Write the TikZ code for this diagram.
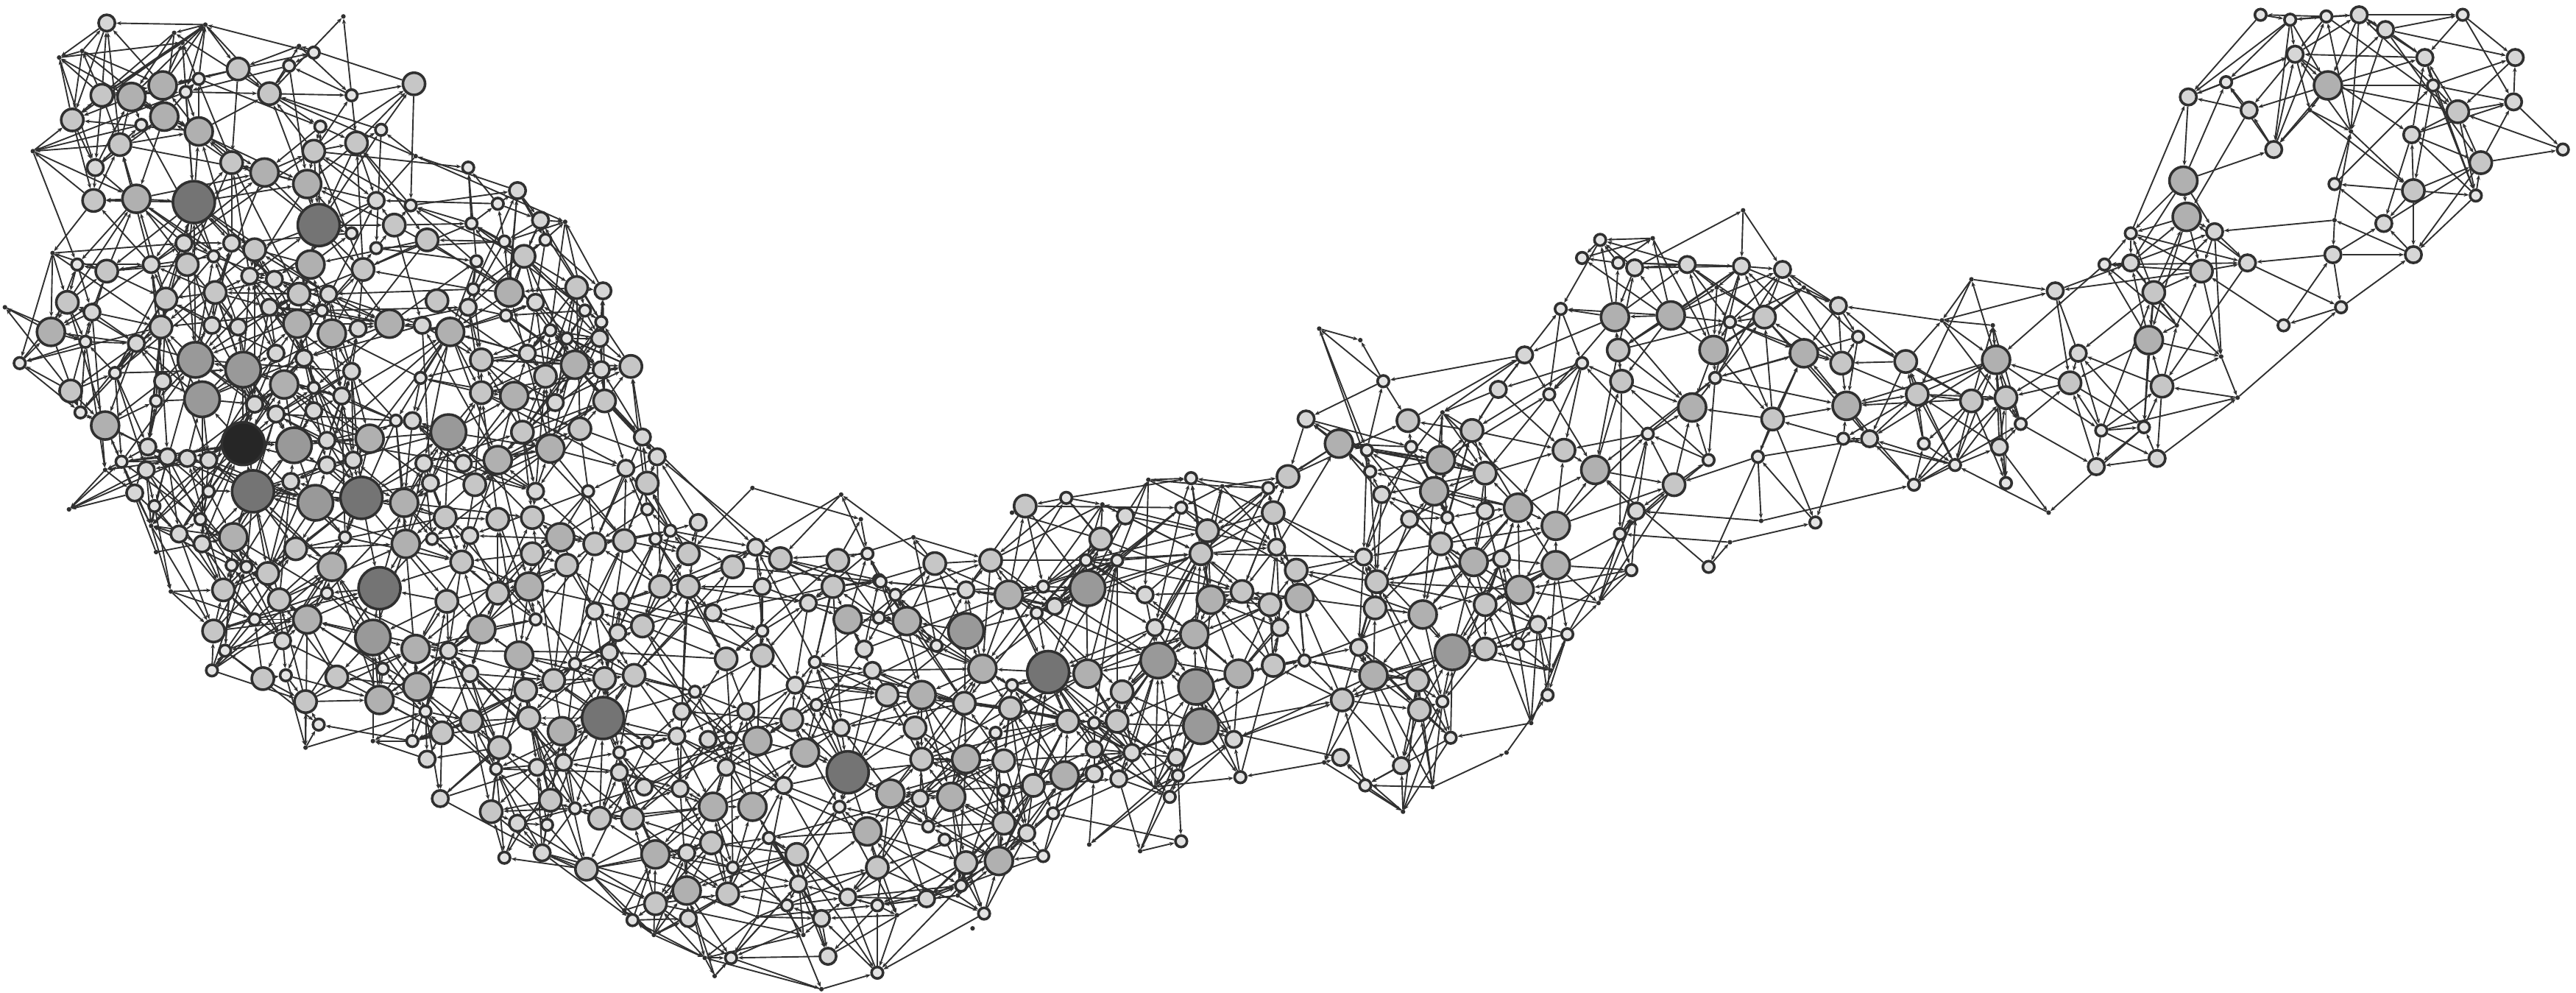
\documentclass[tikz,border=0pt]{standalone}
\usetikzlibrary{arrows.meta,backgrounds}

\definecolor{rim}{HTML}{303030}
\definecolor{fa}{HTML}{E4E4E4}
\definecolor{fb}{HTML}{D6D6D6}
\definecolor{fc}{HTML}{C6C6C6}
\definecolor{fd}{HTML}{B0B0B0}
\definecolor{fe}{HTML}{999999}
\definecolor{ff}{HTML}{747474}
\definecolor{fg}{HTML}{262626}

% wanted number of links per size class
\def\dgt{5}\def\dga{6}\def\dgb{8}\def\dgc{11}
\def\dgd{14}\def\dge{18}\def\dgf{24}\def\dgg{30}

\newcount\ci \newcount\cj
\newcount\gapx \newcount\gapy \newcount\gapsq \newcount\pairw
\newcount\chance
\newcount\rngseed \newcount\rnghi \newcount\rnglo
\rngseed=4217

% Park-Miller random numbers, \chance in 0..9999
\def\nextrand{%
  \rnghi=\rngseed \divide\rnghi by 127773
  \rnglo=\rnghi \multiply\rnglo by -127773 \advance\rnglo by \rngseed
  \multiply\rnglo by 16807
  \multiply\rnghi by 2836
  \advance\rnglo by -\rnghi
  \ifnum\rnglo<0 \advance\rnglo by 2147483647 \fi
  \rngseed=\rnglo
  \chance=\rngseed \divide\chance by 10000
  \multiply\chance by -10000 \advance\chance by \rngseed}

\tikzset{
  vtx/.style={circle, draw=rim, line width=1.6mm, inner sep=0pt},
  va/.style={vtx, fill=fa, minimum size=7mm},
  vb/.style={vtx, fill=fb, minimum size=10mm},
  vc/.style={vtx, fill=fc, minimum size=13.5mm},
  vd/.style={vtx, fill=fd, minimum size=17mm},
  ve/.style={vtx, fill=fe, minimum size=21.5mm},
  vf/.style={vtx, fill=ff, minimum size=25.5mm},
  vg/.style={vtx, fill=fg, minimum size=26mm},
  vt/.style={circle, fill=rim, inner sep=0pt, minimum size=2.8mm},
  link/.style={draw=rim, line width=0.85mm, -{Stealth[length=3mm,width=2.4mm]}}
}

% weight of the pair (\ci,\cj) by distance, then \pairaction
\def\pairstep{%
  \gapx=\numexpr\csname vx\the\cj\endcsname-\csname vx\the\ci\endcsname\relax
  \ifnum\gapx<0 \gapx=-\gapx \fi
  \ifnum\gapx<100
    \gapy=\numexpr\csname vy\the\cj\endcsname-\csname vy\the\ci\endcsname\relax
    \ifnum\gapy<0 \gapy=-\gapy \fi
    \ifnum\gapy<100
      \gapsq=\numexpr\gapx*\gapx+\gapy*\gapy\relax
      \pairw=0
      \ifnum\gapsq<10000 \pairw=8 \fi
      \ifnum\gapsq<6400 \pairw=25 \fi
      \ifnum\gapsq<3025 \pairw=60 \fi
      \ifnum\gapsq<900 \pairw=100 \fi
      \ifnum\pairw>0 \pairaction \fi
    \fi
  \fi}
\def\innerpairs{\ifnum\cj>\nnodes\else \pairstep \advance\cj 1 \expandafter\innerpairs\fi}
\def\allpairs{\ifnum\ci<\nnodes \cj=\ci \advance\cj 1 \innerpairs \advance\ci 1 \expandafter\allpairs\fi}

% first pass: how crowded each vertex is
\def\addcrowd{%
  \expandafter\xdef\csname sw\the\ci\endcsname{\the\numexpr\csname sw\the\ci\endcsname+\pairw\relax}%
  \expandafter\xdef\csname sw\the\cj\endcsname{\the\numexpr\csname sw\the\cj\endcsname+\pairw\relax}}
% second pass: a link with chance given by crowding and size
\def\addlink{%
  \nextrand
  \ifnum\chance<\numexpr\pairw*(\csname q\the\ci\endcsname+\csname q\the\cj\endcsname)/1000\relax
    \edef\pa{\the\ci}\edef\pb{\the\cj}%
    \nextrand
    \ifodd\chance
      \draw[link] (n\pa) -- (n\pb);
    \else
      \draw[link] (n\pb) -- (n\pa);
    \fi
  \fi}

\begin{document}
\begin{tikzpicture}[x=1mm, y=-1mm]
\useasboundingbox (0,0) rectangle (1568,604);

% vertices: x/y/size class
\foreach \x/\y/\k [count=\i] in {
65/14/b, 36/35/t, 50/31/t, 106/20/t, 111/26/t, 125/15/t, 209/10/t, 182/28/t, 191/32/a, 176/40/a,
145/42/c, 121/48/a, 113/56/a, 99/52/d, 80/59/d, 62/58/c, 44/73/c, 100/71/d, 86/76/a, 121/80/d,
164/57/c, 214/58/a, 252/51/c, 73/88/c, 58/102/b, 20/92/t, 141/99/c, 161/105/d, 187/112/d, 195/77/a,
191/92/c, 217/87/c, 232/79/a, 253/95/t, 83/121/d, 57/122/c, 118/123/f, 194/137/f, 229/122/b, 250/125/a,
285/102/a, 303/124/a, 112/148/b, 141/148/b, 155/152/c, 214/142/a, 240/137/c, 260/146/c, 229/151/a, 287/136/a,
307/147/a, 47/161/a, 65/165/c, 92/161/b, 114/161/c, 130/156/a, 152/168/b, 167/170/b, 189/161/d, 221/164/c,
290/159/a, 32/154/t, 41/184/c, 56/190/b, 3/187/t, 101/182/c, 131/178/c, 164/187/b, 182/179/c, 200/179/b,
196/189/a, 266/183/c, 285/187/b, 288/176/a, 308/192/a, 310/178/d, 31/202/d, 12/221/a, 52/208/a, 83/209/b,
98/199/c, 129/198/b, 145/199/b, 168/215/b, 181/197/d, 202/203/d, 218/200/b, 237/197/d, 257/198/b, 274/202/d,
293/219/c, 43/238/c, 49/251/a, 64/259/d, 70/227/a, 99/232/b, 95/244/a, 119/219/e, 148/225/e, 123/243/e,
173/234/d, 185/218/b, 191/236/a, 214/226/b, 208/241/b, 155/246/b, 168/252/b, 191/250/b, 256/230/a, 293/239/c,
241/256/a, 251/256/b, 273/263/e, 225/267/d, 148/270/g, 179/271/e, 199/268/b, 199/283/b, 215/280/b, 258/282/b,
282/282/b, 303/280/d, 90/272/b, 102/278/b, 114/279/b, 127/280/b, 74/281/a, 89/286/b, 82/300/b, 94/308/a,
127/299/a, 154/299/f, 177/293/b, 192/306/e, 220/303/f, 246/306/d, 262/294/b, 289/295/c, 42/310/t, 64/286/t,
315/116/b, 329/134/b, 344/135/t, 332/146/a, 319/156/c, 326/184/b, 351/175/c, 367/177/b, 356/189/a, 366/196/a,
335/201/a, 345/206/a, 365/206/b, 321/215/b, 350/222/d, 366/225/b, 384/223/c, 332/229/c, 313/241/d, 338/245/b,
368/244/c, 318/263/c, 353/261/c, 391/266/b, 400/278/b, 335/273/d, 381/285/b, 394/294/c, 358/299/a, 326/299/b,
303/316/c, 324/315/c, 394/310/a, 458/297/t, 512/301/t, 524/316/t, 556/327/t, 425/318/b, 408/323/a, 399/328/a,
380/329/c, 362/331/c, 341/327/d, 324/337/c, 345/344/c, 322/357/d, 419/337/c, 446/345/c, 460/333/b, 475/340/c,
510/341/c, 528/337/a, 535/353/a, 569/343/c, 603/341/c, 507/357/c, 464/357/b, 402/357/c, 419/357/c,
122/316/a, 109/325/b, 123/331/b, 142/327/d, 141/344/a, 150/345/a, 180/334/c, 210/327/a, 247/331/d, 202/345/d,
231/358/f, 263/328/a, 271/315/c, 286/326/b, 281/342/c, 303/361/c, 272/366/c, 293/383/d, 163/349/c, 136/359/c,
170/365/c, 199/361/a, 104/360/t, 95/336/t, 92/320/t, 155/377/a, 187/377/d, 227/388/e, 253/395/d, 273/396/b,
326/377/a, 316/399/d, 362/372/b, 378/366/b, 371/397/b, 376/385/b, 130/384/c, 172/390/b, 137/396/a, 129/408/a,
160/413/c, 174/411/a, 205/412/c, 233/407/a, 254/418/d, 286/410/b, 320/420/c, 337/414/c, 350/404/a, 368/413/c,
186/427/c, 231/426/d, 194/441/a, 259/433/a, 287/439/c, 322/437/c, 269/446/c, 342/445/d, 367/437/f, 251/451/a,
304/455/c, 260/462/b, 327/467/b, 343/464/b, 377/458/a, 377/470/b, 302/468/a, 186/455/t, 227/451/t, 268/486/b,
299/494/c, 315/501/b, 333/502/a, 335/487/c, 350/492/a, 365/498/c, 307/522/a, 330/519/b, 357/529/c, 380/554/t,
624/308/c, 649/303/a, 616/312/t, 661/341/a, 670/328/c, 662/358/e, 614/362/d, 635/357/a, 642/369/b, 631/373/a,
588/359/b, 588/384/e, 598/407/d, 616/417/a, 615/431/c, 638/409/f, 662/410/d, 650/439/c, 666/440/a, 666/456/b,
666/471/b, 648/472/d, 606/446/a, 587/428/c, 561/423/d, 588/462/d, 611/463/c, 629/478/c, 611/481/a, 611/501/c,
625/507/b, 641/495/a, 635/521/a, 663/514/t, 608/524/d, 588/525/c, 585/539/a, 599/556/a, 592/565/t, 564/547/b,
579/485/d, 560/486/b, 565/503/a, 575/511/a, 542/483/d, 557/443/c, 561/462/c, 570/393/a, 552/378/d, 536/354/a,
545/362/a, 535/376/a, 526/395/b, 531/408/b, 516/377/d, 492/367/b, 496/403/a, 484/417/b, 497/429/a, 540/423/c,
512/443/b, 509/417/t, 464/384/a, 464/399/c, 442/401/c, 434/373/b, 417/379/t, 391/381/c, 386/411/c, 423/421/a,
415/433/b, 412/448/b, 394/452/a, 431/450/b, 445/449/a, 454/433/b, 461/451/d, 482/438/c, 490/458/d, 516/470/f,
511/491/a, 528/506/d, 534/528/c, 534/551/a, 534/592/a, 516/546/b, 500/559/b, 504/582/b, 500/602/t, 485/520/c,
486/538/b, 479/551/a, 477/478/b, 468/510/a, 458/491/d, 434/491/d, 442/467/b, 433/513/c, 446/528/a, 443/544/c,
418/542/d, 419/559/b, 418/519/b, 399/520/d, 399/550/c, 385/560/a, 414/480/b, 392/479/b, 385/498/c, 445/583/a,
435/594/t, 429/583/t, 398/569/t, 461/558/t, 489/569/t, 546/557/t, 583/545/t,
725/291/a, 671/307/t, 784/290/c, 772/297/a, 685/314/b, 719/309/a, 735/323/c, 680/341/a, 697/362/b, 731/337/c,
775/312/c, 777/333/b, 789/347/c, 756/360/c, 773/368/c, 791/364/d, 737/365/d, 703/382/b, 727/386/d, 779/382/b,
794/402/a, 775/405/c, 754/410/d, 705/402/e, 683/421/c, 728/418/e, 731/442/e, 751/450/b, 680/439/c, 689/458/b,
716/461/b, 717/472/a, 681/474/b, 712/485/a, 755/473/a, 719/512/a, 694/518/t, 703/479/t, 830/339/b, 838/354/c,
837/370/c, 827/394/b, 836/411/d, 817/426/c, 816/461/b, 831/478/a, 853/466/b, 854/494/t, 806/464/t, 866/374/d,
863/414/c, 864/432/c, 878/427/a, 883/449/a, 872/479/t, 884/397/e, 904/395/c, 924/392/a, 936/380/b, 954/386/a,
942/423/a, 932/440/t, 917/458/t, 904/368/c, 925/359/d, 947/344/d, 947/320/d, 971/286/d, 952/274/c, 924/309/d,
904/311/b, 904/288/c, 877/280/d, 873/299/d, 877/331/c, 897/342/d, 914/340/b, 858/316/b, 881/315/a, 841/301/b,
834/287/a, 832/274/a, 859/272/a, 815/270/d, 973/367/t, 944/408/t,
795/255/b, 803/200/t, 828/207/t, 842/232/a, 857/256/c, 878/251/t, 896/262/c, 912/237/b, 943/240/a, 928/216/b,
699/292/t, 744/296/t, 974/146/a, 963/157/a, 985/160/a, 995/163/b, 1027/161/b, 1060/162/b, 1085/164/b, 1061/128/t,
1045/175/t, 1006/145/t, 1119/186/b, 1098/175/t, 950/188/a, 983/193/d, 1017/192/d, 1053/196/a, 1074/193/c, 1131/205/a,
963/221/a, 985/213/c, 1043/213/d, 1098/215/d, 1121/221/c, 1160/220/c, 1182/195/t, 987/232/c, 1030/248/d, 1044/230/a,
1079/255/c, 1124/247/d, 1167/240/c, 1200/244/c, 1215/219/d, 1221/242/c, 1003/264/a, 1019/295/c, 1040/280/a, 1070/278/a,
1122/267/a, 1138/267/b, 1171/270/a, 1190/283/a, 1165/295/a, 1221/294/a, 1217/272/b, 1230/258/a, 1247/312/t, 996/311/b,
986/325/a, 993/347/a, 1040/345/a, 1105/318/a, 1072/317/t, 1053/330/t,
1251/177/b, 1265/215/b, 1260/233/c, 1281/161/a, 1297/142/a, 1297/160/b, 1311/178/c, 1308/207/d, 1316/235/c, 1325/198/t,
1340/165/c, 1368/160/b, 1390/198/a, 1362/242/t, 1279/262/a, 1305/260/a, 1313/279/b, 1276/284/b, 1200/170/t, 1213/198/t,
1376/9/a, 1394/12/a, 1416/10/a, 1436/9/b, 1452/18/b, 1499/9/a, 1476/35/b, 1531/35/b, 1397/33/b, 1417/52/d,
1481/52/a, 1332/59/b, 1355/50/a, 1369/67/b, 1384/91/b, 1406/67/t, 1431/80/t, 1496/68/c, 1530/62/b, 1468/82/b,
1510/99/c, 1560/91/a, 1329/110/d, 1331/132/d, 1421/112/a, 1469/116/c, 1507/119/a, 1451/136/b, 1421/134/t, 1348/141/b,
1420/155/b, 1469/155/b, 1425/187/a, 1352/217/t}
{
  \node[v\k] (n\i) at (\x,\y) {};
  \expandafter\xdef\csname vx\i\endcsname{\x}
  \expandafter\xdef\csname vy\i\endcsname{\y}
  \expandafter\xdef\csname dg\i\endcsname{\csname dg\k\endcsname}
  \expandafter\xdef\csname sw\i\endcsname{1}
  \xdef\nnodes{\i}
}

% crowding of every vertex
\let\pairaction\addcrowd
\ci=1 \allpairs
\foreach \i in {1,...,\nnodes}{
  \expandafter\xdef\csname q\i\endcsname{\the\numexpr\csname dg\i\endcsname*5000000/\csname sw\i\endcsname\relax}
}

% links between vertices, chosen at random
\begin{pgfonlayer}{background}
\let\pairaction\addlink
\ci=1 \allpairs
\end{pgfonlayer}
\end{tikzpicture}
\end{document}
